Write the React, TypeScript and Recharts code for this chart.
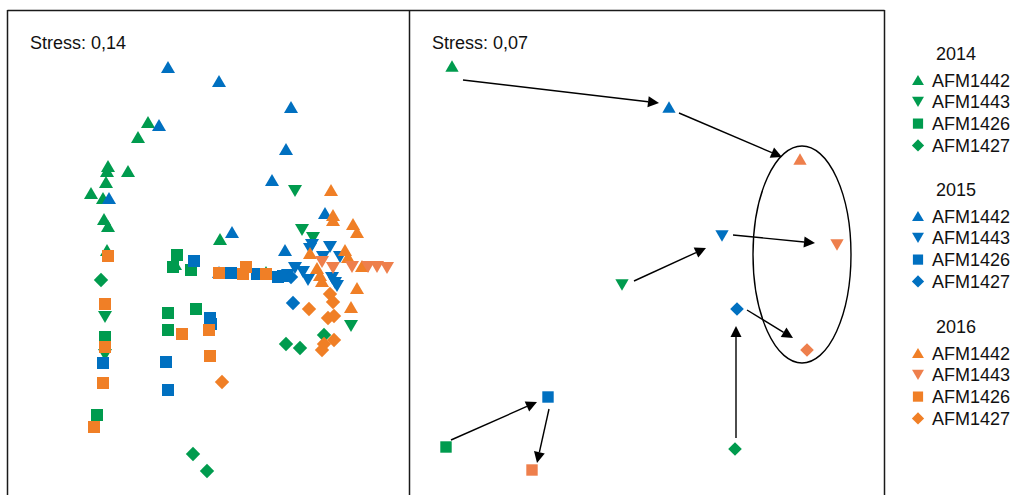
import React from 'react';
import {
  ScatterChart,
  Scatter,
  XAxis,
  YAxis,
  ReferenceLine,
  ReferenceArea,
} from 'recharts';

type Kind = 'up' | 'down' | 'square' | 'diamond';
type Pt = [number, number];

const years = ['2014', '2015', '2016'];
const strains = ['AFM1442', 'AFM1443', 'AFM1426', 'AFM1427'];
const kinds: Kind[] = ['up', 'down', 'square', 'diamond'];
const stressLeft = 'Stress: 0,14';
const stressRight = 'Stress: 0,07';

// left panel: all samples, [NMDS1, NMDS2]
const left2014_1442: Pt[] = [[148, 122], [138, 137], [108, 166], [107, 171], [128, 171], [106, 182], [91, 193], [103, 198], [104, 219], [108, 226], [220, 239], [107, 250], [175, 264], [266, 272]];
const left2014_1443: Pt[] = [[295, 191], [302, 230], [313, 238], [351, 326], [105, 317], [105, 355]];
const left2014_1426: Pt[] = [[105, 337], [97, 415], [177, 255], [173, 267], [191, 270], [168, 313], [196, 309], [168, 330]];
const left2014_1427: Pt[] = [[101, 280], [286, 344], [300, 348], [324, 335], [193, 454], [207, 471]];

const left2015_1442: Pt[] = [[168, 67], [219, 81], [291, 107], [286, 149], [272, 180], [159, 125], [109, 198], [325, 213], [232, 232], [285, 250], [219, 272]];
const left2015_1443: Pt[] = [[312, 245], [310, 249], [330, 247], [323, 257], [340, 257], [295, 268], [303, 272], [288, 275], [308, 280], [332, 278], [335, 283], [337, 286]];
const left2015_1426: Pt[] = [[103, 363], [194, 261], [231, 273], [257, 274], [278, 277], [283, 276], [166, 362], [168, 390], [210, 318], [211, 324]];
const left2015_1427: Pt[] = [[291, 277], [293, 303]];

const left2016_1442: Pt[] = [[331, 190], [333, 215], [333, 220], [353, 224], [357, 232], [310, 253], [345, 250], [348, 257], [317, 268], [320, 275], [362, 266], [357, 288], [351, 307], [322, 281]];
const left2016_1443: Pt[] = [[322, 262], [333, 268], [352, 267], [368, 267], [377, 267], [387, 268]];
const left2016_1426: Pt[] = [[108, 256], [105, 304], [105, 347], [103, 383], [94, 427], [219, 273], [246, 267], [243, 274], [266, 274], [182, 334], [209, 330], [210, 356]];
const left2016_1427: Pt[] = [[330, 294], [333, 302], [309, 309], [328, 318], [334, 316], [334, 340], [324, 344], [322, 350], [222, 382]];

// right panel: group centroids, one per strain (order as strains)
const right2014: Pt[] = [[452, 66], [622, 285], [446, 447], [735, 449]];
const right2015: Pt[] = [[669, 107], [722, 236], [548, 397], [737, 309]];
const right2016: Pt[] = [[800, 159], [837, 245], [532, 470], [807, 350]];

// arrows between years, [from, to]
const arrows: [Pt, Pt][] = [
  [[463, 80], [659, 103]],
  [[679, 113], [782, 157]],
  [[733, 235], [815, 243]],
  [[634, 281], [706, 248]],
  [[747, 310], [793, 338]],
  [[736, 438], [736, 326]],
  [[451, 440], [537, 402]],
  [[549, 409], [537, 463]],
];
// 2016 cluster ellipse bounds
const clusterX: [number, number] = [753, 851];
const clusterY: [number, number] = [146, 363];

const green = '#009B4E';
const blue = '#0070C0';
const orange = '#F07F26';
const salmon = '#EE7F4C';
const yearColor = [green, blue, orange];

const leftSets = [
  [left2014_1442, left2014_1443, left2014_1426, left2014_1427],
  [left2015_1442, left2015_1443, left2015_1426, left2015_1427],
  [left2016_1442, left2016_1443, left2016_1426, left2016_1427],
];
const rightSets = [right2014, right2015, right2016];

const toRows = (pts: Pt[]) => pts.map(([x, y]) => ({ x, y }));

function Marker(props: any) {
  const { cx, cy, fill, kind, s = 1 } = props;
  if (cx == null || cy == null) return null;
  const w = 7 * s;
  const h = 6 * s;
  if (kind === 'up')
    return <polygon points={`${cx - w},${cy + h} ${cx + w},${cy + h} ${cx},${cy - h}`} fill={fill} />;
  if (kind === 'down')
    return <polygon points={`${cx - w},${cy - h} ${cx + w},${cy - h} ${cx},${cy + h}`} fill={fill} />;
  if (kind === 'square') {
    const a = 6 * s;
    return <rect x={cx - a} y={cy - a} width={2 * a} height={2 * a} fill={fill} />;
  }
  const d = 7.2 * s;
  return <polygon points={`${cx},${cy - d} ${cx + d},${cy} ${cx},${cy + d} ${cx - d},${cy}`} fill={fill} />;
}

function Arrow(props: any) {
  const { x1, y1, x2, y2 } = props;
  if ([x1, y1, x2, y2].some((v) => v == null || isNaN(v))) return null;
  const dx = x2 - x1;
  const dy = y2 - y1;
  const len = Math.hypot(dx, dy) || 1;
  const ux = dx / len;
  const uy = dy / len;
  const hl = 11;
  const hw = 5.5;
  const bx = x2 - ux * hl;
  const by = y2 - uy * hl;
  return (
    <g>
      <line x1={x1} y1={y1} x2={bx} y2={by} stroke="#000" strokeWidth={1.4} />
      <polygon
        points={`${x2},${y2} ${bx - uy * hw},${by + ux * hw} ${bx + uy * hw},${by - ux * hw}`}
        fill="#000"
      />
    </g>
  );
}

function Ellipse(props: any) {
  const { x, y, width, height } = props;
  if (x == null || width == null) return null;
  return (
    <ellipse
      cx={x + width / 2}
      cy={y + height / 2}
      rx={width / 2}
      ry={height / 2}
      fill="none"
      stroke="#000"
      strokeWidth={1.4}
    />
  );
}

const FONT = '"Liberation Sans", Arial, sans-serif';

export default function App() {
  const legendTitleY = [53, 189, 326];
  const rowGap = 21.8;
  return (
    <div
      style={{
        position: 'absolute',
        left: 0,
        top: 0,
        width: 1013,
        height: 495,
        background: '#fff',
        overflow: 'hidden',
        fontFamily: FONT,
      }}
    >
      {/* left panel */}
      <div style={{ position: 'absolute', left: 8, top: 10 }}>
        <ScatterChart width={402} height={485} margin={{ top: 0, right: 0, bottom: 0, left: 0 }}>
          <XAxis type="number" dataKey="x" domain={[8, 410]} allowDataOverflow hide />
          <YAxis type="number" dataKey="y" domain={[10, 495]} allowDataOverflow reversed hide />
          {leftSets.map((set, yi) =>
            set.map((pts, ki) => (
              <Scatter
                key={`${yi}-${ki}`}
                name={`${years[yi]} ${strains[ki]}`}
                data={toRows(pts)}
                fill={yi === 2 && ki === 1 ? salmon : yearColor[yi]}
                isAnimationActive={false}
                shape={(p: any) => <Marker {...p} kind={kinds[ki]} />}
              />
            ))
          )}
        </ScatterChart>
      </div>

      {/* right panel */}
      <div style={{ position: 'absolute', left: 410, top: 10 }}>
        <ScatterChart width={475} height={485} margin={{ top: 0, right: 0, bottom: 0, left: 0 }}>
          <XAxis type="number" dataKey="x" domain={[410, 885]} allowDataOverflow hide />
          <YAxis type="number" dataKey="y" domain={[10, 495]} allowDataOverflow reversed hide />
          <ReferenceArea
            x1={clusterX[0]}
            x2={clusterX[1]}
            y1={clusterY[0]}
            y2={clusterY[1]}
            ifOverflow="visible"
            shape={(p: any) => <Ellipse {...p} />}
          />
          {arrows.map(([a, b], i) => (
            <ReferenceLine
              key={i}
              segment={[{ x: a[0], y: a[1] }, { x: b[0], y: b[1] }]}
              ifOverflow="visible"
              shape={(p: any) => <Arrow {...p} />}
            />
          ))}
          {rightSets.map((pts, yi) =>
            kinds.map((k, ki) => (
              <Scatter
                key={`r${yi}-${ki}`}
                name={`${years[yi]} ${strains[ki]}`}
                data={toRows([pts[ki]])}
                fill={yi === 2 ? salmon : yearColor[yi]}
                isAnimationActive={false}
                shape={(p: any) => <Marker {...p} kind={k} s={0.95} />}
              />
            ))
          )}
        </ScatterChart>
      </div>

      {/* frames, stress labels and legend */}
      <svg width={1013} height={495} style={{ position: 'absolute', left: 0, top: 0, pointerEvents: 'none' }}>
        <line x1={7.5} y1={10.5} x2={884.5} y2={10.5} stroke="#1a1a1a" strokeWidth={1.5} />
        <line x1={7.5} y1={10} x2={7.5} y2={495} stroke="#1a1a1a" strokeWidth={1.5} />
        <line x1={409.5} y1={10} x2={409.5} y2={495} stroke="#1a1a1a" strokeWidth={1.5} />
        <line x1={884.5} y1={10} x2={884.5} y2={495} stroke="#1a1a1a" strokeWidth={1.5} />
        <text x={30} y={49} fontSize={18} fontFamily={FONT} fill="#111">{stressLeft}</text>
        <text x={432} y={49} fontSize={18} fontFamily={FONT} fill="#111">{stressRight}</text>
        {years.map((yr, yi) => (
          <g key={yr}>
            <text x={956} y={legendTitleY[yi] + 6.5} textAnchor="middle" fontSize={18} fontFamily={FONT} fill="#111">
              {yr}
            </text>
            {strains.map((st, ki) => {
              const cy = legendTitleY[yi] + 27 + ki * rowGap;
              return (
                <g key={st}>
                  <Marker
                    cx={918}
                    cy={cy}
                    kind={kinds[ki]}
                    s={0.85}
                    fill={yi === 2 && ki === 1 ? salmon : yearColor[yi]}
                  />
                  <text x={932} y={cy + 6.5} fontSize={18} fontFamily={FONT} fill="#111">
                    {st}
                  </text>
                </g>
              );
            })}
          </g>
        ))}
      </svg>
    </div>
  );
}
